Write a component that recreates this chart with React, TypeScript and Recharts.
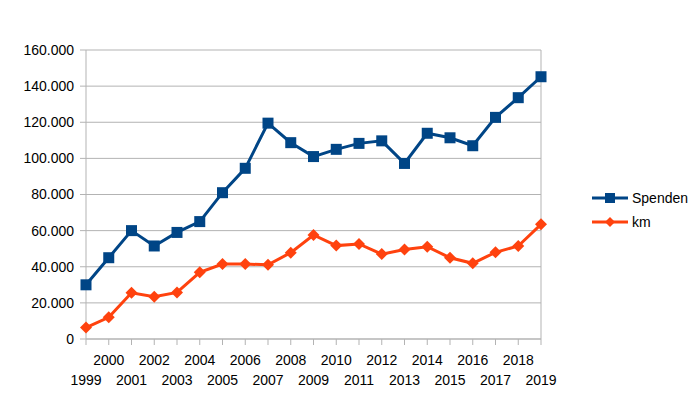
import React from "react"
import {
    LineChart,
    Line,
    XAxis,
    YAxis,
    CartesianGrid,
    ReferenceLine,
} from "recharts"

const YEARS = [
    "1999", "2000", "2001", "2002", "2003", "2004", "2005", "2006", "2007", "2008",
    "2009", "2010", "2011", "2012", "2013", "2014", "2015", "2016", "2017", "2018", "2019",
]

const SPENDEN = [
    30000, 45000, 60000, 51500, 59000, 65000, 81000, 94500, 119500, 108700,
    101000, 105000, 108300, 109700, 97200, 113900, 111400, 107000, 122700, 133600, 145200,
]

const KM = [
    6300, 12000, 25600, 23400, 25800, 36900, 41500, 41500, 41100, 47800,
    57600, 51700, 52600, 47000, 49600, 51100, 45000, 41900, 48000, 51500, 63500,
]

const Y_TICKS = [0, 20000, 40000, 60000, 80000, 100000, 120000, 140000, 160000]

const BLUE = "#004586"
const ORANGE = "#ff420e"
const GRID = "#b3b3b3"
const FONT = "'Liberation Sans', Arial, sans-serif"

const data = YEARS.map((year, i) => ({ year, Spenden: SPENDEN[i], km: KM[i] }))

function formatThousands(v: number) {
    return String(v).replace(/\B(?=(\d{3})+(?!\d))/g, ".")
}

// LibreOffice style: every other year label drops to a second row
function YearTick(props: any) {
    const { x, y, payload, index } = props
    const lower = index % 2 === 0
    return (
        <text
            x={x}
            y={y + (lower ? 38 : 18)}
            textAnchor="middle"
            fontSize={14}
            fontFamily={FONT}
            fill="#000"
        >
            {payload.value}
        </text>
    )
}

function Square({ cx, cy }: any) {
    return <rect x={cx - 5.5} y={cy - 5.5} width={11} height={11} fill={BLUE} />
}

function Diamond({ cx, cy }: any) {
    const r = 6
    return (
        <polygon
            points={`${cx},${cy - r} ${cx + r},${cy} ${cx},${cy + r} ${cx - r},${cy}`}
            fill={ORANGE}
        />
    )
}

function LegendBox() {
    const items = [
        { name: "Spenden", color: BLUE, shape: "square" },
        { name: "km", color: ORANGE, shape: "diamond" },
    ]
    return (
        <svg width={110} height={50} style={{ position: "absolute", left: 590, top: 188 }}>
            {items.map((it, i) => {
                const cy = 10 + i * 24
                return (
                    <g key={it.name}>
                        <line x1={2} x2={38} y1={cy} y2={cy} stroke={it.color} strokeWidth={3} />
                        {it.shape === "square" ? (
                            <rect x={15} y={cy - 5} width={10} height={10} fill={it.color} />
                        ) : (
                            <polygon
                                points={`20,${cy - 5} 25,${cy} 20,${cy + 5} 15,${cy}`}
                                fill={it.color}
                            />
                        )}
                        <text
                            x={42}
                            y={cy + 5}
                            fontSize={14}
                            fontFamily={FONT}
                            fill="#000"
                        >
                            {it.name}
                        </text>
                    </g>
                )
            })}
        </svg>
    )
}

export default function App() {
    return (
        <div style={{ position: "absolute", left: 0, top: 0, width: 700, height: 405, background: "#fff" }}>
            <LineChart
                width={700}
                height={405}
                data={data}
                margin={{ top: 50, right: 159, left: 0, bottom: 16 }}
            >
                <CartesianGrid vertical={false} stroke={GRID} />
                <XAxis
                    dataKey="year"
                    interval={0}
                    height={50}
                    stroke={GRID}
                    tickSize={6}
                    tick={<YearTick />}
                />
                <YAxis
                    width={86}
                    domain={[0, 160000]}
                    ticks={Y_TICKS}
                    stroke={GRID}
                    tickSize={6}
                    tickMargin={6}
                    tickFormatter={formatThousands}
                    tick={{ fontSize: 14, fontFamily: FONT, fill: "#000" }}
                />
                <ReferenceLine x="2019" stroke={GRID} />
                <Line
                    dataKey="Spenden"
                    stroke={BLUE}
                    strokeWidth={3}
                    dot={<Square />}
                    activeDot={false}
                    isAnimationActive={false}
                />
                <Line
                    dataKey="km"
                    stroke={ORANGE}
                    strokeWidth={3}
                    dot={<Diamond />}
                    activeDot={false}
                    isAnimationActive={false}
                />
            </LineChart>
            <LegendBox />
        </div>
    )
}
